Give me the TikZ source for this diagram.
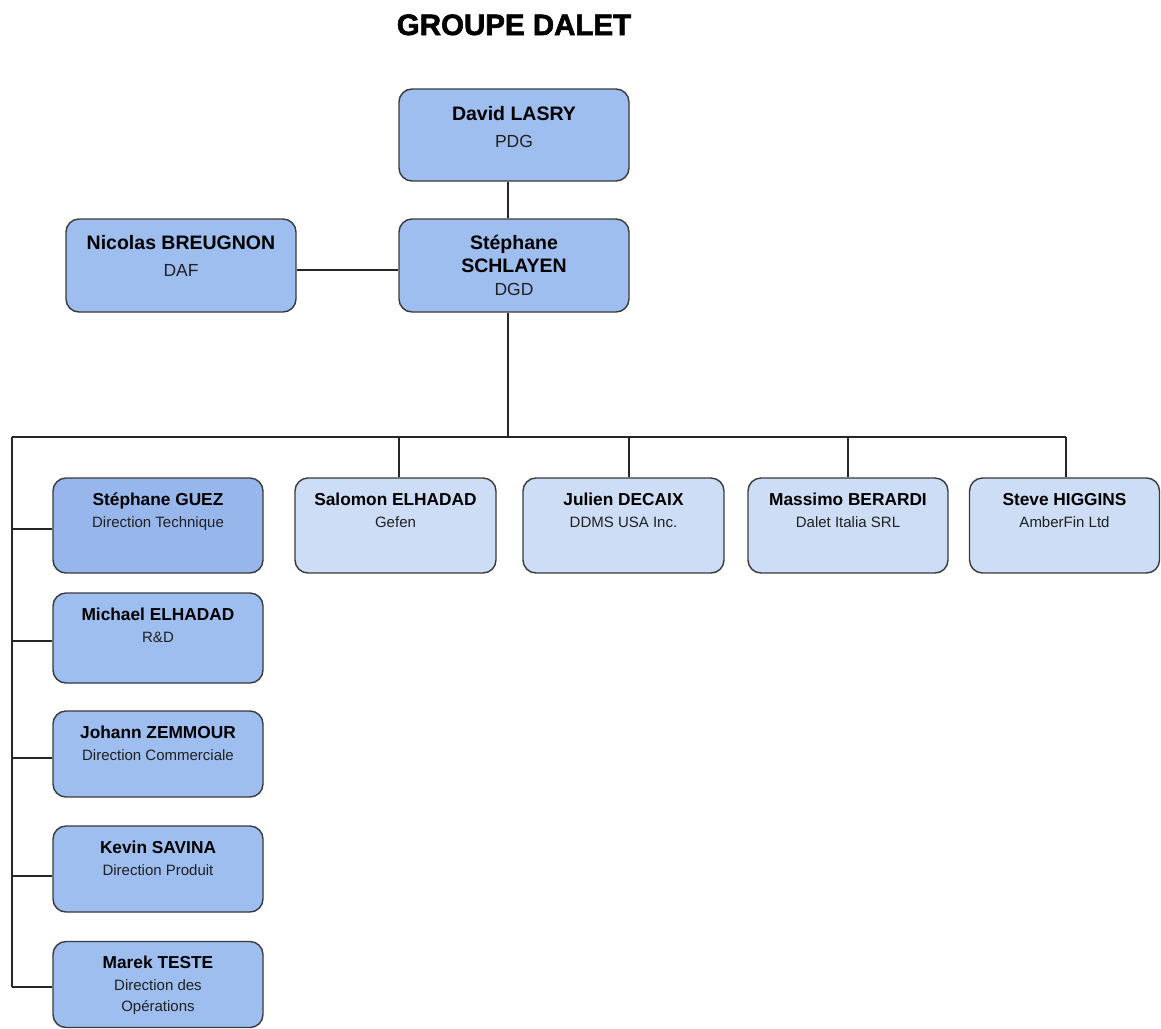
\documentclass[tikz,border=0pt]{standalone}
\usepackage{fontspec}
\setmainfont{Liberation Sans}
\newfontfamily\titlefont[BoldFeatures={FakeBold=2}]{Liberation Sans}
\usetikzlibrary{calc}
\definecolor{boxblue}{HTML}{9DBEEF}
\definecolor{boxlight}{HTML}{CCDDF5}
\definecolor{boxguez}{HTML}{97B7EC}
\definecolor{edgegray}{HTML}{3A3A3A}
\definecolor{subgray}{HTML}{202020}
\newcommand{\subA}[1]{{\mdseries\fontsize{17.5}{\the\baselineskip}\selectfont\color{subgray}#1}}
\newcommand{\subB}[1]{{\mdseries\fontsize{15}{\the\baselineskip}\selectfont\color{subgray}#1}}
\begin{document}
\begin{tikzpicture}[x=1pt,y=-1pt,
  box/.style={draw=edgegray, line width=1.4pt, rounded corners=13pt, fill=boxblue, inner sep=0pt},
  lightbox/.style={box, fill=boxlight},
  bigtxt/.style={anchor=north, inner sep=0pt, align=center, font=\fontsize{19.5}{27}\selectfont\bfseries},
  smalltxt/.style={anchor=north, inner sep=0pt, align=center, font=\fontsize{17.3}{22}\selectfont\bfseries},
  conn/.style={draw=black!85, line width=1.3pt}]
\useasboundingbox[fill=white] (0,0) rectangle (1161,1028);

% title
\node[anchor=base, inner sep=0pt, font=\fontsize{29.5}{31}\selectfont\titlefont\bfseries] (title) at (514,35) {GROUPE DALET};

% top boxes
\node[box, minimum width=230pt, minimum height=92pt] (lasry) at (514,135) {};
\node[bigtxt] (lasryT) at ([yshift=-17.5pt]lasry.north) {David LASRY\\\subA{PDG}};

\node[box, minimum width=230pt, minimum height=93pt] (schlayen) at (514,265.5) {};
\node[bigtxt, font=\fontsize{19.5}{23}\selectfont\bfseries] (schlayenT) at ([yshift=-17pt]schlayen.north) {Stéphane\\SCHLAYEN\\\subA{DGD}};

\node[box, minimum width=230pt, minimum height=93pt] (breugnon) at (181,265.5) {};
\node[bigtxt] (breugnonT) at ([yshift=-17pt]breugnon.north) {Nicolas BREUGNON\\\subA{DAF}};

% second row
\node[lightbox, minimum width=201pt, minimum height=95pt] (salomon) at (395.5,525.5) {};
\node[smalltxt] (salomonT) at ([yshift=-15.5pt]salomon.north) {Salomon ELHADAD\\\subB{Gefen}};

\node[lightbox, minimum width=201pt, minimum height=95pt] (julien) at (623.5,525.5) {};
\node[smalltxt] (julienT) at ([yshift=-15.5pt]julien.north) {Julien DECAIX\\\subB{DDMS USA Inc.}};

\node[lightbox, minimum width=200pt, minimum height=95pt] (massimo) at (848,525.5) {};
\node[smalltxt] (massimoT) at ([yshift=-15.5pt]massimo.north) {Massimo BERARDI\\\subB{Dalet Italia SRL}};

\node[lightbox, minimum width=190pt, minimum height=95pt] (steve) at (1064.5,525.5) {};
\node[smalltxt] (steveT) at ([yshift=-15.5pt]steve.north) {Steve HIGGINS\\\subB{AmberFin Ltd}};

% left column
\node[box, fill=boxguez, minimum width=210pt, minimum height=95pt] (guez) at (158,525.5) {};
\node[smalltxt] (guezT) at ([yshift=-15.5pt]guez.north) {Stéphane GUEZ\\\subB{Direction Technique}};

\node[box, minimum width=210pt, minimum height=90pt] (michael) at (158,638) {};
\node[smalltxt] (michaelT) at ([yshift=-15.5pt]michael.north) {Michael ELHADAD\\\subB{R\&D}};

\node[box, minimum width=210pt, minimum height=86pt] (johann) at (158,754) {};
\node[smalltxt] (johannT) at ([yshift=-15.5pt]johann.north) {Johann ZEMMOUR\\\subB{Direction Commerciale}};

\node[box, minimum width=210pt, minimum height=86pt] (kevin) at (158,869) {};
\node[smalltxt] (kevinT) at ([yshift=-15pt]kevin.north) {Kevin SAVINA\\\subB{Direction Produit}};

\node[box, minimum width=210pt, minimum height=86pt] (marek) at (158,984.5) {};
\node[smalltxt, font=\fontsize{17.3}{21.5}\selectfont\bfseries] (marekT) at ([yshift=-15pt]marek.north) {Marek TESTE\\\subB{Direction des}\\\subB{Opérations}};

% connectors
\coordinate (busmid) at (508,437);
\coordinate (busL) at (12,437);
\coordinate (busR) at (1066,437);
\draw[conn] ([xshift=-6pt]lasry.south) -- ([xshift=-6pt]schlayen.north);
\draw[conn] ([yshift=-4.5pt]breugnon.east) -- ([yshift=-4.5pt]schlayen.west);
\draw[conn] ([xshift=-6pt]schlayen.south) -- (busmid);
\draw[conn] (busL) -- (busR);

\coordinate (sD) at ([xshift=3.5pt]salomon.north);
\coordinate (jD) at ([xshift=5.5pt]julien.north);
\coordinate (mD) at (massimo.north);
\coordinate (stD) at ([xshift=1.5pt]steve.north);
\draw[conn] (sD) -- (sD |- busL);
\draw[conn] (jD) -- (jD |- busL);
\draw[conn] (mD) -- (mD |- busL);
\draw[conn] (stD) -- (busR);

\coordinate (gB) at ([yshift=-3.5pt]guez.west);
\coordinate (miB) at ([yshift=-3pt]michael.west);
\coordinate (joB) at ([yshift=-4pt]johann.west);
\coordinate (kB) at ([yshift=-7pt]kevin.west);
\coordinate (maB) at ([yshift=-2.5pt]marek.west);
\draw[conn] (busL) -- (busL |- maB);
\draw[conn] (gB) -- (gB -| busL);
\draw[conn] (miB) -- (miB -| busL);
\draw[conn] (joB) -- (joB -| busL);
\draw[conn] (kB) -- (kB -| busL);
\draw[conn] (maB) -- (maB -| busL);
\end{tikzpicture}
\end{document}
